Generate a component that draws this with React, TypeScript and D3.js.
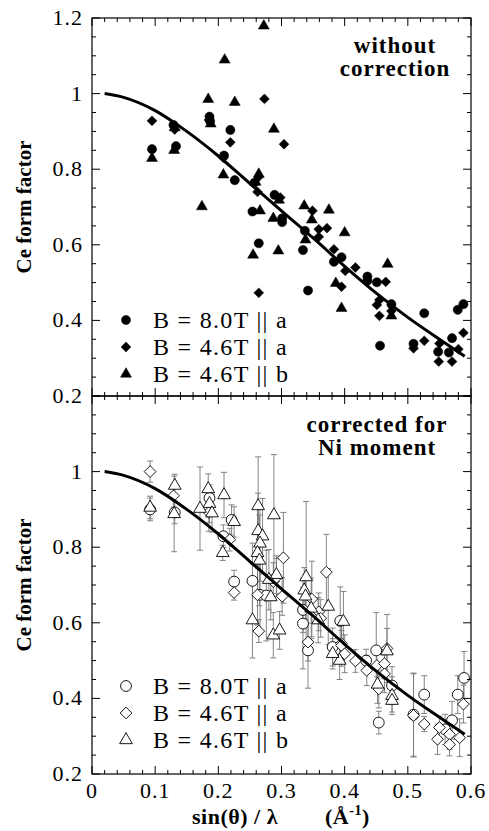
import React from "react";
import * as d3 from "d3";

// smooth theoretical curve
const curveS = [0.02, 0.05, 0.1, 0.15, 0.2, 0.25, 0.3, 0.35, 0.4, 0.45, 0.5, 0.55, 0.59];
const curveF = [1.0, 0.99, 0.955, 0.9, 0.835, 0.762, 0.69, 0.618, 0.543, 0.472, 0.408, 0.35, 0.305];

// top panel: without correction  [sin(theta)/lambda, F]
const topCircles = [
  [0.095, 0.853], [0.129, 0.917], [0.133, 0.861], [0.186, 0.939], [0.187, 0.927],
  [0.219, 0.904], [0.209, 0.836], [0.226, 0.771], [0.257, 0.764], [0.254, 0.688],
  [0.289, 0.732], [0.264, 0.604], [0.301, 0.67], [0.301, 0.66], [0.337, 0.637],
  [0.334, 0.586], [0.342, 0.479], [0.395, 0.567], [0.383, 0.555], [0.436, 0.516],
  [0.436, 0.505], [0.451, 0.501], [0.474, 0.443], [0.456, 0.333], [0.526, 0.419],
  [0.509, 0.338], [0.57, 0.353], [0.548, 0.317], [0.565, 0.315], [0.579, 0.428],
  [0.588, 0.443],
];
const topDiamonds = [
  [0.095, 0.928], [0.131, 0.905], [0.185, 0.93], [0.219, 0.871], [0.208, 0.83],
  [0.264, 0.78], [0.262, 0.74], [0.273, 0.986], [0.298, 0.725], [0.304, 0.866],
  [0.264, 0.473], [0.349, 0.69], [0.359, 0.641], [0.372, 0.644], [0.359, 0.621],
  [0.383, 0.588], [0.401, 0.531], [0.417, 0.54], [0.395, 0.489], [0.465, 0.502],
  [0.455, 0.454], [0.451, 0.441], [0.455, 0.412], [0.474, 0.425], [0.509, 0.326],
  [0.526, 0.346], [0.55, 0.339], [0.549, 0.291], [0.57, 0.291], [0.58, 0.324],
  [0.588, 0.367],
];
const topTriangles = [
  [0.095, 0.829], [0.131, 0.91], [0.13, 0.85], [0.184, 0.985], [0.188, 0.92],
  [0.174, 0.701], [0.21, 1.089], [0.226, 0.977], [0.208, 0.785], [0.272, 1.179],
  [0.288, 0.906], [0.264, 0.787], [0.259, 0.766], [0.266, 0.69], [0.255, 0.573],
  [0.287, 0.67], [0.295, 0.584], [0.296, 0.718], [0.336, 0.703], [0.348, 0.666],
  [0.375, 0.692], [0.338, 0.613], [0.4, 0.632], [0.386, 0.498], [0.395, 0.432],
  [0.468, 0.549], [0.474, 0.412],
];

// bottom panel: corrected for Ni moment  [sin(theta)/lambda, F, error]
const botCircles = [
  [0.092, 0.9, 0.03], [0.131, 0.892, 0.03], [0.186, 0.93, 0.03], [0.221, 0.872, 0.04],
  [0.208, 0.829, 0.03], [0.225, 0.709, 0.03], [0.254, 0.711, 0.1], [0.266, 0.674, 0.1],
  [0.276, 0.672, 0.12], [0.334, 0.634, 0.06], [0.334, 0.598, 0.12], [0.342, 0.527, 0.1],
  [0.381, 0.536, 0.05], [0.434, 0.5, 0.03], [0.45, 0.527, 0.1], [0.475, 0.434, 0.05],
  [0.454, 0.336, 0.03], [0.509, 0.357, 0.11], [0.526, 0.41, 0.05], [0.559, 0.318, 0.04],
  [0.57, 0.342, 0.05], [0.579, 0.41, 0.05], [0.589, 0.454, 0.07], [0.393, 0.605, 0.09],
];
const botDiamonds = [
  [0.092, 1.0, 0.028], [0.129, 0.936, 0.03], [0.185, 0.892, 0.05], [0.218, 0.82, 0.03],
  [0.225, 0.68, 0.02], [0.287, 0.709, 0.05], [0.262, 0.674, 0.08], [0.264, 0.578, 0.03],
  [0.303, 0.772, 0.12], [0.292, 0.72, 0.05], [0.301, 0.67, 0.05], [0.348, 0.663, 0.1],
  [0.359, 0.629, 0.05], [0.362, 0.612, 0.05], [0.371, 0.734, 0.1], [0.395, 0.545, 0.06],
  [0.342, 0.549, 0.05], [0.395, 0.54, 0.04], [0.4, 0.518, 0.05], [0.417, 0.499, 0.03],
  [0.435, 0.474, 0.04], [0.451, 0.487, 0.03], [0.463, 0.492, 0.04], [0.463, 0.465, 0.05],
  [0.467, 0.532, 0.09], [0.454, 0.425, 0.05], [0.509, 0.355, 0.11], [0.526, 0.332, 0.02],
  [0.55, 0.323, 0.03], [0.547, 0.292, 0.04], [0.566, 0.305, 0.04], [0.566, 0.278, 0.03],
  [0.582, 0.296, 0.05], [0.588, 0.385, 0.05],
];
const botTriangles = [
  [0.092, 0.905, 0.03], [0.131, 0.963, 0.03], [0.13, 0.888, 0.1], [0.171, 0.902, 0.11],
  [0.184, 0.954, 0.04], [0.186, 0.915, 0.05], [0.19, 0.89, 0.05], [0.209, 0.938, 0.06],
  [0.225, 0.867, 0.04], [0.207, 0.785, 0.02], [0.263, 0.909, 0.13], [0.288, 0.885, 0.16],
  [0.263, 0.843, 0.1], [0.27, 0.829, 0.1], [0.266, 0.81, 0.1], [0.262, 0.785, 0.12],
  [0.265, 0.765, 0.12], [0.292, 0.727, 0.05], [0.254, 0.607, 0.1], [0.287, 0.567, 0.06],
  [0.297, 0.58, 0.05], [0.28, 0.714, 0.08], [0.283, 0.668, 0.06], [0.339, 0.721, 0.2],
  [0.336, 0.686, 0.06], [0.338, 0.67, 0.06], [0.347, 0.638, 0.08], [0.374, 0.643, 0.1],
  [0.398, 0.603, 0.08], [0.358, 0.607, 0.06], [0.392, 0.5, 0.05], [0.381, 0.518, 0.04],
  [0.467, 0.525, 0.06], [0.452, 0.437, 0.05], [0.475, 0.407, 0.05], [0.475, 0.394, 0.03],
];

const xTicks = [0, 0.1, 0.2, 0.3, 0.4, 0.5, 0.6];
const xTickLabels = ["0", "0.1", "0.2", "0.3", "0.4", "0.5", "0.6"];
const yTicksTop = [1.2, 1, 0.8, 0.6, 0.4, 0.2];
const yLabelsTop = ["1.2", "1", "0.8", "0.6", "0.4", "0.2"];
const yTicksBot = [1, 0.8, 0.6, 0.4, 0.2];
const yLabelsBot = ["1", "0.8", "0.6", "0.4", "0.2"];
const legendLabels = ["B = 8.0T || a", "B = 4.6T || a", "B = 4.6T || b"];

const FONT = "Liberation Serif";
const X0 = 92;
const X1 = 471;
const x = d3.scaleLinear().domain([0, 0.6]).range([X0, X1]);
const yTop = d3.scaleLinear().domain([0.2, 1.2]).range([396, 18]);
const yBot = d3.scaleLinear().domain([0.2, 1.2]).range([774, 396]);

const filledSym = [
  d3.symbol(d3.symbolCircle, 66)(),
  d3.symbol(d3.symbolDiamond2, 62)(),
  d3.symbol(d3.symbolTriangle, 52)(),
];
const openSym = [
  d3.symbol(d3.symbolCircle, 92)(),
  d3.symbol(d3.symbolDiamond2, 88)(),
  d3.symbol(d3.symbolTriangle, 70)(),
];

function Frame({ y }) {
  const xMinor = d3.range(0, 0.6001, 0.02);
  const yMinor = d3.range(0.2, 1.2001, 0.05);
  const isMajX = (v) => Math.abs(v * 10 - Math.round(v * 10)) < 1e-6;
  const isMajY = (v) => Math.abs(v * 5 - Math.round(v * 5)) < 1e-6;
  const yt = y(1.2), yb = y(0.2);
  return (
    <g stroke="#000" fill="none">
      <rect x={X0} y={yt} width={X1 - X0} height={yb - yt} strokeWidth={1.2} />
      {xMinor.map((v, i) => {
        const l = isMajX(v) ? 8 : 4;
        return (
          <g key={"x" + i} strokeWidth={1}>
            <line x1={x(v)} x2={x(v)} y1={yb} y2={yb - l} />
            <line x1={x(v)} x2={x(v)} y1={yt} y2={yt + l} />
          </g>
        );
      })}
      {yMinor.map((v, i) => {
        const l = isMajY(v) ? 8 : 4;
        return (
          <g key={"y" + i} strokeWidth={1}>
            <line x1={X0} x2={X0 + l} y1={y(v)} y2={y(v)} />
            <line x1={X1} x2={X1 - l} y1={y(v)} y2={y(v)} />
          </g>
        );
      })}
    </g>
  );
}

function Panel({ y, sets, open, ticks, labels, legendY, note, noteX, noteY }) {
  const syms = open ? openSym : filledSym;
  const line = d3
    .line()
    .x((d) => x(d[0]))
    .y((d) => y(d[1]))
    .curve(d3.curveMonotoneX);
  const curve = line(curveS.map((s, i) => [s, curveF[i]]));
  return (
    <g>
      {open &&
        sets.map((set, k) =>
          set.map((d, i) => {
            const cx = x(d[0]);
            const y1 = y(d[1] + d[2]), y2 = y(d[1] - d[2]);
            return (
              <g key={"e" + k + "-" + i} stroke="#777" strokeWidth={0.9}>
                <line x1={cx} x2={cx} y1={y1} y2={y2} />
                <line x1={cx - 3} x2={cx + 3} y1={y1} y2={y1} />
                <line x1={cx - 3} x2={cx + 3} y1={y2} y2={y2} />
              </g>
            );
          })
        )}
      {sets.map((set, k) =>
        set.map((d, i) => (
          <path
            key={"m" + k + "-" + i}
            d={syms[k]}
            transform={`translate(${x(d[0])},${y(d[1])})`}
            fill={open ? "#fff" : "#000"}
            stroke="#000"
            strokeWidth={open ? 0.9 : 0.5}
          />
        ))
      )}
      <path d={curve} fill="none" stroke="#000" strokeWidth={3} />
      <Frame y={y} />
      {ticks.map((t, i) => (
        <text
          key={"yl" + i}
          x={83}
          y={y(t) + 7}
          textAnchor="end"
          fontFamily={FONT}
          fontSize={22}
          letterSpacing={1}
        >
          {labels[i]}
        </text>
      ))}
      {legendLabels.map((l, i) => (
        <g key={"lg" + i}>
          <path
            d={syms[i]}
            transform={`translate(126,${legendY + i * 27})`}
            fill={open ? "#fff" : "#000"}
            stroke="#000"
            strokeWidth={open ? 0.9 : 0.5}
          />
          <text
            x={153}
            y={legendY + i * 27 + 8}
            fontFamily={FONT}
            fontSize={24}
            letterSpacing={1.3}
          >
            {l}
          </text>
        </g>
      ))}
      {note.map((n, i) => (
        <text
          key={"n" + i}
          x={noteX}
          y={noteY + i * 23}
          textAnchor="middle"
          fontFamily={FONT}
          fontWeight="bold"
          fontSize={23}
          letterSpacing={1}
        >
          {n}
        </text>
      ))}
      <text
        transform={`translate(31,${(y(1.2) + y(0.2)) / 2}) rotate(-90)`}
        textAnchor="middle"
        fontFamily={FONT}
        fontWeight="bold"
        fontSize={21}
      >
        Ce form factor
      </text>
    </g>
  );
}

export default function App() {
  return (
    <svg
      width={489}
      height={831}
      style={{ position: "absolute", left: 0, top: 0, background: "#fff" }}
    >
      <Panel
        y={yTop}
        sets={[topCircles, topDiamonds, topTriangles]}
        open={false}
        ticks={yTicksTop}
        labels={yLabelsTop}
        legendY={320}
        note={["without", "correction"]}
        noteX={395}
        noteY={53}
      />
      <Panel
        y={yBot}
        sets={[botCircles, botDiamonds, botTriangles]}
        open={true}
        ticks={yTicksBot}
        labels={yLabelsBot}
        legendY={686}
        note={["corrected for", "Ni moment"]}
        noteX={377}
        noteY={432}
      />
      {xTicks.map((t, i) => (
        <text
          key={"xl" + i}
          x={x(t)}
          y={798}
          textAnchor="middle"
          fontFamily={FONT}
          fontSize={22}
          letterSpacing={1}
        >
          {xTickLabels[i]}
        </text>
      ))}
      <text x={192} y={824} fontFamily={FONT} fontWeight="bold" fontSize={22} letterSpacing={0.5}>
        sin(θ) / λ
        <tspan x={325}>(Å</tspan>
        <tspan dy={-9} fontSize={14}>-1</tspan>
        <tspan dy={9}>)</tspan>
      </text>
    </svg>
  );
}
